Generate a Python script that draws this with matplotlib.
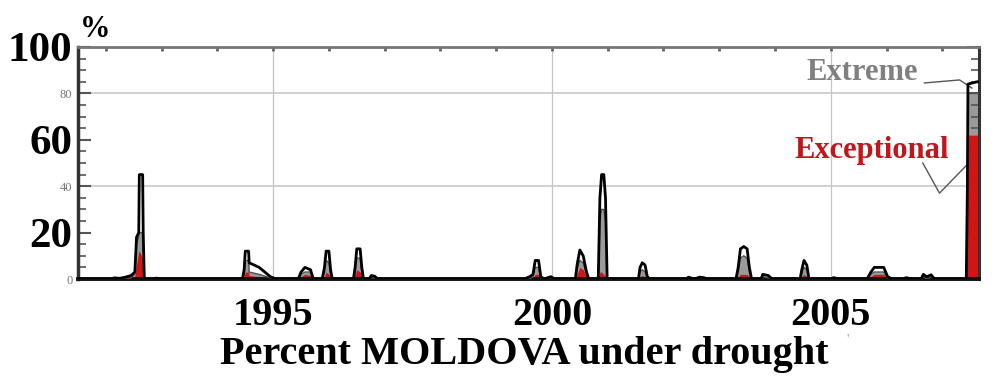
import matplotlib
matplotlib.use("Agg")
import matplotlib.pyplot as plt
from matplotlib.ticker import MultipleLocator

# drought area series (decimal year, % of country)
t = [1991.50, 1992.10, 1992.15, 1992.25, 1992.35, 1992.45, 1992.52, 1992.55, 1992.59, 1992.60,
     1992.66, 1992.67, 1992.69, 1992.85, 1992.90, 1993.00, 1994.45, 1994.48, 1994.50, 1994.56,
     1994.57, 1994.75, 1994.95, 1995.05, 1995.45, 1995.50, 1995.57, 1995.67, 1995.72, 1995.88,
     1995.92, 1995.95, 1996.00, 1996.03, 1996.06, 1996.44, 1996.47, 1996.50, 1996.56, 1996.59,
     1996.62, 1996.72, 1996.76, 1996.82, 1996.88, 1999.50, 1999.60, 1999.66, 1999.70, 1999.76,
     1999.80, 1999.86, 1999.98, 2000.05, 2000.42, 2000.45, 2000.50, 2000.56, 2000.62, 2000.66,
     2000.83, 2000.86, 2000.89, 2000.93, 2000.96, 2000.99, 2001.55, 2001.58, 2001.62, 2001.67,
     2001.71, 2001.76, 2002.40, 2002.45, 2002.55, 2002.65, 2002.72, 2002.80, 2003.30, 2003.34,
     2003.38, 2003.44, 2003.50, 2003.54, 2003.58, 2003.75, 2003.78, 2003.88, 2003.95, 2004.45,
     2004.48, 2004.52, 2004.57, 2004.61, 2005.00, 2005.05, 2005.15, 2005.65, 2005.72, 2005.78,
     2005.95, 2006.02, 2006.10, 2006.30, 2006.35, 2006.45, 2006.62, 2006.66, 2006.72, 2006.80,
     2006.86, 2007.43, 2007.45, 2007.46, 2007.62, 2007.66]
total = [0, 0, 0.5, 0.3, 0.8, 1.5, 3, 18, 20, 45,
         45, 20, 0, 0, 0.4, 0, 0, 4, 12, 12,
         7, 5, 1, 0, 0, 3, 5, 4, 0, 0,
         5, 12, 12, 4, 0, 0, 5, 13, 13, 5,
         0, 0, 1.5, 1.2, 0, 0, 1, 2, 8, 8,
         1, 0, 1, 0, 0, 6, 12.5, 10, 3, 0,
         0, 35, 45, 45, 35, 0, 0, 5, 7, 6,
         1, 0, 0, 0.8, 0, 0.8, 0.6, 0, 0, 5,
         13, 14, 13, 5, 0, 0, 2, 1.5, 0, 0,
         4, 8, 6, 0, 0, 0.6, 0, 0, 3, 5,
         5, 1, 0, 0, 0.6, 0, 0, 2, 1, 1.8,
         0, 0, 40, 84, 85, 85]
extreme = [0, 0, 0, 0, 0, 0.5, 2, 15, 18, 20,
           20, 15, 0, 0, 0, 0, 0, 2, 8, 8,
           3, 2, 0.5, 0, 0, 2, 3, 3, 0, 0,
           3, 8, 7, 2, 0, 0, 4, 9, 9, 3,
           0, 0, 0.5, 0.5, 0, 0, 0, 1, 5, 5,
           0.5, 0, 0, 0, 0, 4, 8, 7, 2, 0,
           0, 25, 30, 30, 25, 0, 0, 3, 4, 3,
           0.5, 0, 0, 0, 0, 0, 0, 0, 0, 3,
           9, 10, 9, 3, 0, 0, 1, 0.5, 0, 0,
           2, 5, 4, 0, 0, 0, 0, 0, 2, 3,
           3, 0.5, 0, 0, 0, 0, 0, 1, 0, 1,
           0, 0, 35, 80, 80, 80]
exceptional = [0, 0, 0, 0, 0, 0, 1, 6, 12, 12,
               9, 5, 0, 0, 0, 0, 0, 1, 3, 3,
               1.5, 1, 0.3, 0, 0, 1, 2, 1.5, 0, 0,
               1, 3, 2, 1, 0, 0, 2, 4, 3, 1,
               0, 0, 0, 0, 0, 0, 0, 0.5, 2, 2,
               0, 0, 0, 0, 0, 2, 5, 4, 1, 0,
               0, 3, 3, 2, 1, 0, 0, 1, 1.5, 1,
               0, 0, 0, 0, 0, 0, 0, 0, 0, 1,
               2, 2, 2, 1, 0, 0, 0, 0, 0, 0,
               1, 2, 1, 0, 0, 0, 0, 0, 1, 2,
               2, 0, 0, 0, 0, 0, 0, 0, 0, 0,
               0, 0, 25, 62, 62, 62]

year_ticks = [1995, 2000, 2005]
pct_ticks = [0, 20, 40, 60, 80, 100]

serif = "Liberation Serif"

fig = plt.figure(figsize=(9.92, 3.90), dpi=100)
ax = fig.add_axes([0.0786, 0.2846, 0.9084, 0.5949])

# light grid
for yr in year_ticks:
    ax.axvline(yr, color="#c4c4c4", lw=0.9, zorder=0)
for p in [40, 80]:
    ax.axhline(p, color="#c8c8c8", lw=1.2, zorder=0)

ax.fill_between(t, extreme, color="#9a9a9a", lw=0, zorder=1)
ax.fill_between(t, exceptional, color="#d01515", lw=0, zorder=2)
ax.plot(t, extreme, color="#505050", lw=1.0, zorder=3)
ax.plot(t, total, color="black", lw=2.0, zorder=4)

ax.set_xlim(1991.5, 2007.66)
ax.set_ylim(0, 100)

ax.set_xticks(year_ticks)
ax.set_xticklabels([str(y) for y in year_ticks], fontfamily=serif, fontweight="bold", fontsize=29)
ax.xaxis.set_minor_locator(MultipleLocator(1))
ax.tick_params(axis="x", which="both", bottom=False, top=True, direction="in", length=3,
               width=2, color="#666666", pad=13)

ax.set_yticks(pct_ticks)
ax.yaxis.set_minor_locator(MultipleLocator(5))
ax.tick_params(axis="y", which="major", left=True, right=True, direction="in", length=9,
               width=1.5, color="#555555", pad=4)
ax.tick_params(axis="y", which="minor", left=True, right=True, direction="in", length=6,
               width=1.2, color="#555555")
ax.set_yticklabels([str(p) for p in pct_ticks])
for lab, p in zip(ax.get_yticklabels(), pct_ticks):
    lab.set_fontfamily(serif)
    if p in (20, 60, 100):
        lab.set_fontweight("bold")
        lab.set_fontsize(31)
    else:
        lab.set_fontsize(9)
        lab.set_color("#777777")

for side, w, c in [("left", 2.5, "#333333"), ("bottom", 2.8, "#111111"),
                   ("top", 2.0, "#777777"), ("right", 2.2, "#333333")]:
    ax.spines[side].set_linewidth(w)
    ax.spines[side].set_color(c)

# labels for the last spike
ax.text(2005.57, 89, "Extreme", color="#808080", fontfamily=serif, fontweight="bold",
        fontsize=22, ha="center", va="center")
ax.plot([2006.68, 2007.31, 2007.53], [84.5, 85.8, 82.3], color="#555555", lw=1.0)
ax.text(2005.73, 55.6, "Exceptional", color="#c0161c", fontfamily=serif, fontweight="bold",
        fontsize=22, ha="center", va="center")
ax.plot([2006.65, 2006.95, 2007.49], [50, 37, 50.4], color="#555555", lw=1.0)

fig.text(0.081, 0.925, "%", fontfamily=serif, fontweight="bold", fontsize=22,
         ha="left", va="center")
fig.text(0.528, 0.09, "Percent MOLDOVA under drought", fontfamily=serif, fontweight="bold",
         fontsize=29, ha="center", va="center")
fig.text(0.855, 0.12, "'", fontfamily=serif, fontsize=10, color="#aaaaaa", ha="center")

fig.savefig("out.png", dpi=100)
